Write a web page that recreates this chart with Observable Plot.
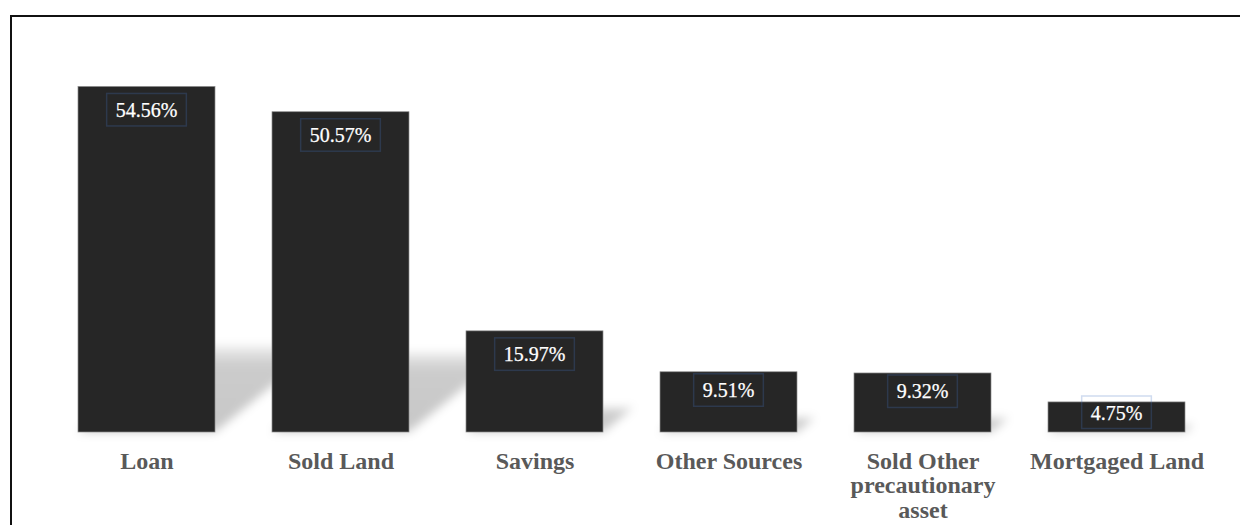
<!DOCTYPE html>
<html>
<head>
<meta charset="utf-8">
<script src="https://cdn.jsdelivr.net/npm/d3@7"></script>
<script src="https://cdn.jsdelivr.net/npm/@observablehq/plot@0.6"></script>
<style>
  html, body { margin: 0; padding: 0; background: #fff; overflow: hidden; width: 1240px; height: 525px; }
  #frame { position: absolute; left: 10px; top: 15px; width: 1400px; height: 700px;
           border-left: 2px solid #111; border-top: 2px solid #111; }
  #chart { position: absolute; left: 0; top: 0; }
</style>
</head>
<body>
<div id="frame"></div>
<div id="chart"></div>
<script>
const categories = ["Loan", "Sold Land", "Savings", "Other Sources", "Sold Other precautionary asset", "Mortgaged Land"];
const values = [54.56, 50.57, 15.97, 9.51, 9.32, 4.75];
const tickLabels = ["Loan", "Sold Land", "Savings", "Other Sources", "Sold Other\nprecautionary\nasset", "Mortgaged Land"];

const data = categories.map((c, i) => ({cat: c, value: values[i], tick: tickLabels[i]}));
const tickMap = new Map(data.map(d => [d.cat, d.tick]));

const FONT = "'Liberation Serif', 'Times New Roman', serif";

// approximate Times glyph widths (em) for label box sizing
const glyphW = {".": 0.25, "%": 0.833};
function textWidth(s, size) {
  let w = 0;
  for (const ch of s) w += (glyphW[ch] ?? 0.5);
  return w * size;
}

function shadowRender(index, scales, vals, dims, ctx, next) {
  const g = next(index, scales, vals, dims, ctx);
  const y0 = scales.y(0);
  const outer = d3.create("svg:g");
  const defs = outer.append("defs");
  const f = defs.append("filter")
    .attr("id", "shadowBlur").attr("filterUnits", "userSpaceOnUse")
    .attr("x", 0).attr("y", 0).attr("width", 1600).attr("height", 600);
  f.append("feGaussianBlur").attr("stdDeviation", 5);
  const grad = defs.append("linearGradient")
    .attr("id", "shadowGrad").attr("x1", 0).attr("y1", 0).attr("x2", 0).attr("y2", 1);
  grad.append("stop").attr("offset", "0%").attr("stop-color", "#000").attr("stop-opacity", 0.06);
  grad.append("stop").attr("offset", "22%").attr("stop-color", "#000").attr("stop-opacity", 0.2);
  grad.append("stop").attr("offset", "100%").attr("stop-color", "#000").attr("stop-opacity", 0.22);
  const inner = outer.append("g")
    .attr("filter", "url(#shadowBlur)")
    .append("g")
    .attr("transform", `translate(0,${y0}) skewX(-51) translate(0,${-y0})`);
  d3.select(g).selectAll("rect").attr("fill", "url(#shadowGrad)").attr("fill-opacity", null);
  inner.node().appendChild(g);
  return outer.node();
}

function labelRender(index, scales, vals, dims, ctx) {
  const g = d3.create("svg:g");
  const bw = scales.x.bandwidth ? scales.x.bandwidth() : 0;
  const y0 = scales.y(0);
  for (const i of index) {
    const d = data[i];
    const cx = scales.x(d.cat) + bw / 2;
    const top = scales.y(d.value);
    const h = y0 - top;
    const label = d.value.toFixed(2) + "%";
    const tw = textWidth(label, 20);
    const boxW = tw + 18, boxH = 32.5;
    const by = h > 90 ? top + 7 : (h > 45 ? top + 2 : y0 - 36);
    g.append("rect")
      .attr("x", cx - boxW / 2).attr("y", by)
      .attr("width", boxW).attr("height", boxH)
      .attr("fill", "none")
      .attr("stroke", "rgba(68,114,196,0.25)")
      .attr("stroke-width", 1.5);
    g.append("text")
      .attr("x", cx).attr("y", by + 23.5)
      .attr("text-anchor", "middle")
      .attr("fill", "#ffffff")
      .attr("font-size", 20)
      .attr("font-family", FONT)
      .attr("stroke", "#ffffff")
      .attr("stroke-width", 0.25)
      .text(label);
  }
  return g.node();
}

const chart = Plot.plot({
  width: 1240,
  height: 525,
  marginLeft: 38.2,
  marginRight: 15.2,
  marginTop: 52,
  marginBottom: 93,
  style: {fontFamily: FONT, background: "transparent", overflow: "visible"},
  x: {domain: categories, paddingInner: 0.292, paddingOuter: 0.2, axis: null, label: null},
  y: {domain: [0, 60], axis: null},
  marks: [
    Plot.barY(data, {x: "cat", y: d => d.value * 0.25, fill: "#000", render: shadowRender}),
    Plot.barY(data, {x: "cat", y: "value", fill: "#262626", stroke: "#8c8c8c", strokeWidth: 0.7}),
    Plot.text(data, {x: "cat", y: "value", text: d => d.value, render: labelRender}),
    Plot.axisX({
      tickSize: 0,
      tickPadding: 19,
      fontSize: 24,
      fontWeight: "bold",
      color: "#595959",
      label: null,
      tickFormat: d => tickMap.get(d),
      lineHeight: 1.02
    })
  ]
});
document.getElementById("chart").appendChild(chart);
</script>
</body>
</html>
